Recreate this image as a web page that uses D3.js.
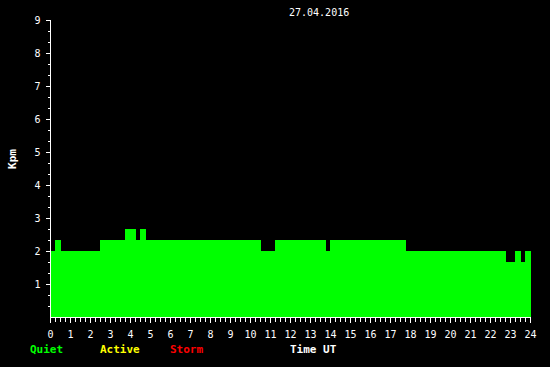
<!DOCTYPE html>
<html>
<head>
    <meta charset="UTF-8">
    <title>Kpm 27.04.2016</title>
    <script src="https://d3js.org/d3.v7.min.js"></script>
    <style>
        body { margin: 0; background: #000; }
        text { font-family: "DejaVu Sans Mono", monospace; }
    </style>
</head>
<body>
    <div id="chart"></div>
    <script type="text/javascript">

        // step data: value holds from stepStart[i] until stepStart[i+1] (hours UT)
        let stepStart = [0, 0.25, 0.55, 2.5, 3.75, 4.3, 4.5, 4.8, 10.55, 11.25, 13.8, 14.0, 17.8, 22.8, 23.25, 23.55, 23.75, 24.05];
        let kpmValues = [2, 2.33, 2, 2.33, 2.67, 2.33, 2.67, 2.33, 2, 2.33, 2, 2.33, 2, 1.67, 2, 1.67, 2];

        let hourTicks = d3.range(0, 25);
        let yTicks = [1, 2, 3, 4, 5, 6, 7, 8, 9];
        let legendLabels = ["Quiet", "Active", "Storm"];
        let legendColors = ["#00ff00", "#ffff00", "#ff0000"];
        let dateLabel = "27.04.2016";

        let width = 550, height = 367;

        let svg = d3.select("#chart")
            .append("svg")
            .attr("width", width)
            .attr("height", height)
            .style("background", "#000");

        let x = d3.scaleLinear().domain([0, 24]).range([50, 530]);
        let y = d3.scaleLinear().domain([0, 9]).range([317, 20]);

        // build points for the step area
        let points = stepStart.map(function (t, i) {
            return { t: t, v: i < kpmValues.length ? kpmValues[i] : kpmValues[kpmValues.length - 1] };
        });

        svg.append("path")
            .datum(points)
            .attr("fill", "#00ff00")
            .attr("shape-rendering", "crispEdges")
            .attr("d", d3.area()
                .curve(d3.curveStepAfter)
                .x(d => x(d.t))
                .y0(y(0))
                .y1(d => y(d.v)));

        // X axis: minor quarter-hour ticks
        let xMinor = svg.append("g")
            .attr("transform", "translate(0,317.5)")
            .call(d3.axisBottom(x).tickValues(d3.range(0, 24.01, 0.25)).tickSize(4).tickFormat(""));
        // X axis: hour ticks with labels
        let xMajor = svg.append("g")
            .attr("transform", "translate(0,317.5)")
            .call(d3.axisBottom(x).tickValues(hourTicks).tickSize(5).tickFormat(d3.format("d")));
        xMajor.selectAll("text")
            .attr("y", 20.5)
            .attr("dy", null)
            .attr("font-size", 10);

        // Y axis
        let yMinor = svg.append("g")
            .attr("transform", "translate(50.5,0)")
            .call(d3.axisLeft(y).tickValues(d3.range(1, 27).map(d => d / 3)).tickSize(3).tickFormat(""));
        let yMajor = svg.append("g")
            .attr("transform", "translate(50.5,0)")
            .call(d3.axisLeft(y).tickValues(yTicks).tickSize(5).tickPadding(5).tickFormat(d3.format("d")));
        yMajor.selectAll("text").attr("font-size", 10);

        svg.selectAll(".domain, .tick line")
            .attr("stroke", "#fff")
            .attr("shape-rendering", "crispEdges");
        svg.selectAll(".domain").attr("d", function () {
            return d3.select(this.parentNode).attr("transform").indexOf("317") > 0
                ? "M50,0H531" : "M0,20V318";
        });
        svg.selectAll(".tick text").attr("fill", "#fff").attr("font-family", "DejaVu Sans Mono");

        // title
        svg.append("text")
            .attr("x", 289)
            .attr("y", 16)
            .attr("fill", "#fff")
            .attr("font-size", 10)
            .text(dateLabel);

        // y label
        svg.append("text")
            .attr("transform", "translate(16,159) rotate(-90)")
            .attr("text-anchor", "middle")
            .attr("fill", "#fff")
            .attr("font-size", 11)
            .attr("font-weight", "bold")
            .text("Kpm");

        // legend
        svg.selectAll(".legend")
            .data(legendLabels)
            .enter()
            .append("text")
            .attr("x", (d, i) => 30 + i * 70)
            .attr("y", 353)
            .attr("fill", (d, i) => legendColors[i])
            .attr("font-size", 11)
            .attr("font-weight", "bold")
            .text(d => d);

        svg.append("text")
            .attr("x", 290)
            .attr("y", 353)
            .attr("fill", "#fff")
            .attr("font-size", 11)
            .attr("font-weight", "bold")
            .text("Time UT");

    </script>
</body>
</html>
